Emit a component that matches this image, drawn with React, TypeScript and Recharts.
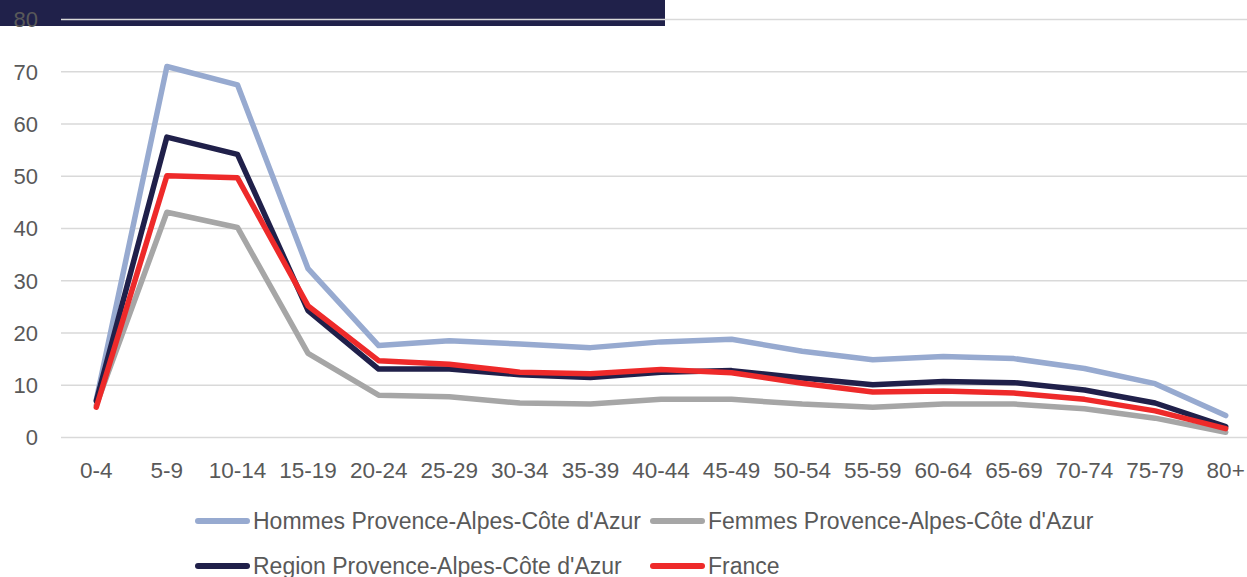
import React from 'react';
import { LineChart, Line, XAxis, YAxis, CartesianGrid } from 'recharts';

const ageGroups = ['0-4', '5-9', '10-14', '15-19', '20-24', '25-29', '30-34', '35-39', '40-44', '45-49', '50-54', '55-59', '60-64', '65-69', '70-74', '75-79', '80+'];
const hommes = [7.2, 71.0, 67.5, 32.3, 17.6, 18.5, 17.9, 17.2, 18.3, 18.8, 16.5, 14.9, 15.5, 15.1, 13.2, 10.3, 4.2];
const femmes = [6.2, 43.1, 40.2, 16.1, 8.1, 7.8, 6.6, 6.4, 7.3, 7.3, 6.4, 5.8, 6.4, 6.4, 5.5, 3.7, 1.0];
const region = [7.0, 57.5, 54.2, 24.3, 13.1, 13.1, 12.0, 11.5, 12.5, 12.8, 11.4, 10.1, 10.7, 10.5, 9.1, 6.6, 2.1];
const france = [5.8, 50.1, 49.7, 25.2, 14.7, 14.0, 12.5, 12.2, 13.0, 12.4, 10.4, 8.7, 8.9, 8.5, 7.3, 5.1, 1.7];
const yTicks = [0, 10, 20, 30, 40, 50, 60, 70, 80];

const series = [
  { key: 'hommes', name: "Hommes Provence-Alpes-Côte d'Azur", color: '#97AAD0' },
  { key: 'femmes', name: "Femmes Provence-Alpes-Côte d'Azur", color: '#A6A6A6' },
  { key: 'region', name: "Region Provence-Alpes-Côte d'Azur", color: '#20204A' },
  { key: 'france', name: 'France', color: '#EE2A2A' },
];

const data = ageGroups.map((age, i) => ({
  age,
  hommes: hommes[i],
  femmes: femmes[i],
  region: region[i],
  france: france[i],
}));

const font = '"Liberation Sans", Arial, sans-serif';

const XTick = (props: any) => {
  const { x, y, payload } = props;
  return (
    <text x={x} y={y} dy={40} textAnchor="middle" fill="#595959" fontSize={22.5} fontFamily={font}>
      {payload.value}
    </text>
  );
};

const YTick = (props: any) => {
  const { x, y, payload } = props;
  return (
    <text x={x} y={y} dx={-23} dy="0.36em" textAnchor="end" fill="#595959" fontSize={22} fontFamily={font}>
      {payload.value}
    </text>
  );
};

const legendPos = [
  { left: 195, top: 509 },
  { left: 650, top: 509 },
  { left: 195, top: 554 },
  { left: 650, top: 554 },
];

const App: React.FC = () => {
  return (
    <div style={{ position: 'absolute', left: 0, top: 0, width: 1247, height: 577, overflow: 'hidden', background: '#fff' }}>
      <div style={{ position: 'absolute', left: 0, top: 0, width: 665, height: 26, background: '#20214A' }} />
      <div style={{ position: 'absolute', left: 0, top: 0 }}>
        <LineChart width={1262} height={577} data={data} margin={{ top: 19.5, right: 1, bottom: 99.5, left: 0 }}>
          <CartesianGrid vertical={false} stroke="#D9D9D9" strokeWidth={1.5} />
          <XAxis
            dataKey="age"
            height={40}
            axisLine={false}
            tickLine={false}
            tickSize={0}
            tickMargin={0}
            interval={0}
            padding={{ left: 35.3, right: 35.3 }}
            tick={<XTick />}
          />
          <YAxis
            width={61}
            domain={[0, 80]}
            ticks={yTicks}
            axisLine={false}
            tickLine={false}
            tickSize={0}
            tickMargin={0}
            tick={<YTick />}
          />
          {series.map((s) => (
            <Line
              key={s.key}
              type="linear"
              dataKey={s.key}
              name={s.name}
              stroke={s.color}
              strokeWidth={5.5}
              strokeLinejoin="round"
              strokeLinecap="round"
              dot={false}
              isAnimationActive={false}
            />
          ))}
        </LineChart>
      </div>
      {series.map((s, i) => (
        <div
          key={s.key}
          style={{
            position: 'absolute',
            left: legendPos[i].left,
            top: legendPos[i].top,
            height: 24,
            display: 'flex',
            alignItems: 'center',
            fontFamily: font,
            fontSize: 23,
            color: '#595959',
            whiteSpace: 'nowrap',
          }}
        >
          <span style={{ display: 'inline-block', width: 55, height: 5.5, borderRadius: 3, background: s.color, marginRight: 3 }} />
          <span>{s.name}</span>
        </div>
      ))}
    </div>
  );
};

export default App;
